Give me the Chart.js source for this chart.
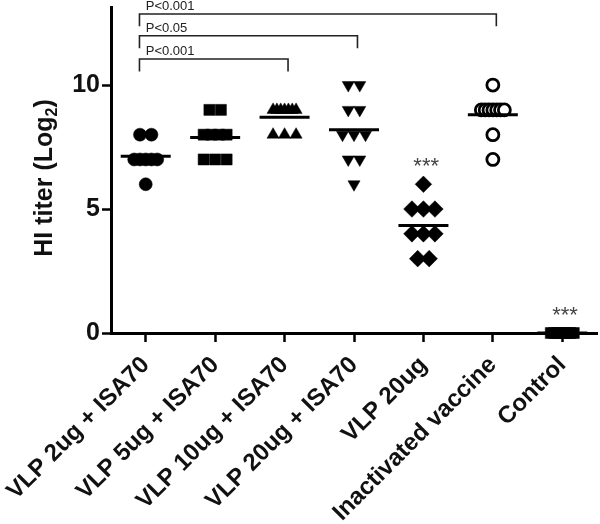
<!DOCTYPE html>
<html>
<head>
<meta charset="utf-8">
<script src="https://cdn.jsdelivr.net/npm/chart.js@4.4.1/dist/chart.umd.min.js"></script>
<style>
  html, body { margin: 0; padding: 0; background: #fff; }
  #wrap { width: 600px; height: 524px; }
</style>
</head>
<body>
<div id="wrap"><canvas id="chart" width="600" height="524"></canvas></div>
<script>
// groups on the x axis
const groups = ["VLP 2ug + ISA70", "VLP 5ug + ISA70", "VLP 10ug + ISA70", "VLP 20ug + ISA70",
                "VLP 20ug", "Inactivated vaccine", "Control"];

// HI titers (log2) per animal
const vlp2Isa = [8, 8, 7, 7, 7, 7, 7, 6];
const vlp5Isa = [9, 9, 8, 8, 8, 8, 7, 7, 7];
const vlp10Isa = [9, 9, 9, 9, 9, 9, 9, 8, 8, 8];
const vlp20Isa = [10, 10, 9, 9, 8, 8, 8, 7, 7, 6];
const vlp20 = [6, 5, 5, 5, 4, 4, 4, 3, 3];
const inactivated = [10, 9, 9, 9, 9, 9, 9, 9, 8, 7];
const control = [0, 0, 0, 0, 0, 0, 0, 0];

const yTicks = [0, 5, 10];

// significance brackets
const bracketFrom = [1, 1, 1];
const bracketTo = [3, 4, 6];
const bracketLevel = [11.05, 11.99, 12.87];
const bracketText = ["P<0.001", "P<0.05", "P<0.001"];

// "***" markers
const starGroups = [5, 7];

/* =========================
   STYLE
========================= */
const FONT = '"Liberation Sans", Arial, Helvetica, sans-serif';
const PX_PER_UNIT = 486 / 7;

const series = [vlp2Isa, vlp5Isa, vlp10Isa, vlp20Isa, vlp20, inactivated, control];
const shapes = ["circle", "rect", "triangle", "triangle", "rectRot", "circle", "rect"];
const rotations = [0, 0, 0, 180, 0, 0, 0];
const radii = [6.5, 7.8, 7, 7, 8.3, 6, 7.8];
const fills = ["#000", "#000", "#000", "#000", "#000", "#fff", "#000"];

// spread points with the same value side by side, like a GraphPad dot plot
function spread(values, g) {
  const counts = {};
  values.forEach(v => { counts[v] = (counts[v] || 0) + 1; });
  const seen = {};
  return values.map(v => {
    const n = counts[v];
    seen[v] = seen[v] === undefined ? 0 : seen[v] + 1;
    const step = n > 1 ? Math.min(11.5, 23 / (n - 1)) : 0;
    return { x: g + (seen[v] - (n - 1) / 2) * step / PX_PER_UNIT, y: v };
  });
}

const mean = arr => arr.reduce((a, b) => a + b, 0) / arr.length;
const halfMean = 25 / PX_PER_UNIT;

const meanSets = series.map((vals, i) => ({
  type: "line",
  data: [{ x: i + 1 - halfMean, y: mean(vals) }, { x: i + 1 + halfMean, y: mean(vals) }],
  borderColor: "#000",
  borderWidth: 3,
  pointRadius: 0,
  fill: false,
  clip: false
}));

const pointSets = series.map((vals, i) => ({
  data: spread(vals, i + 1),
  pointStyle: shapes[i],
  rotation: rotations[i],
  pointRadius: radii[i],
  backgroundColor: fills[i],
  borderColor: "#000",
  borderWidth: fills[i] === "#fff" ? 2.8 : 0.5,
  clip: false
}));

/* =========================
   ANNOTATIONS
========================= */
const annotations = {
  id: "annotations",
  afterDraw(chart) {
    const { ctx, scales: { x, y } } = chart;
    ctx.save();

    // brackets
    ctx.strokeStyle = "#222";
    ctx.lineWidth = 1.6;
    ctx.fillStyle = "#222";
    ctx.font = "13px " + FONT;
    ctx.textAlign = "left";
    ctx.textBaseline = "alphabetic";
    bracketLevel.forEach((lvl, i) => {
      const x1 = x.getPixelForValue(bracketFrom[i] - 0.09);
      const x2 = x.getPixelForValue(bracketTo[i] + 0.05);
      const yTop = y.getPixelForValue(lvl);
      const yLeg = y.getPixelForValue(lvl - 0.5);
      ctx.beginPath();
      ctx.moveTo(x1, yLeg);
      ctx.lineTo(x1, yTop);
      ctx.lineTo(x2, yTop);
      ctx.lineTo(x2, yLeg);
      ctx.stroke();
      ctx.fillText(bracketText[i], x.getPixelForValue(bracketFrom[i]), yTop - 4);
    });

    // stars
    ctx.fillStyle = "#444";
    ctx.font = "22px " + FONT;
    ctx.textAlign = "center";
    starGroups.forEach(g => {
      const top = Math.max(...series[g - 1]);
      ctx.fillText("***", x.getPixelForValue(g + 0.04), y.getPixelForValue(top + 0.45));
    });

    // y axis title with subscript
    const main = "HI titer (Log";
    const sub = "2";
    const close = ")";
    const bold = "bold 25px " + FONT;
    const small = "bold 16px " + FONT;
    ctx.font = bold;
    const w1 = ctx.measureText(main).width;
    const w3 = ctx.measureText(close).width;
    ctx.font = small;
    const w2 = ctx.measureText(sub).width;
    const total = w1 + w2 + w3;
    ctx.translate(52, 178);
    ctx.rotate(-Math.PI / 2);
    ctx.fillStyle = "#111";
    ctx.textAlign = "left";
    ctx.font = bold;
    ctx.fillText(main, -total / 2, 0);
    ctx.font = small;
    ctx.fillText(sub, -total / 2 + w1, 5);
    ctx.font = bold;
    ctx.fillText(close, -total / 2 + w1 + w2, 0);

    ctx.restore();
  }
};

/* =========================
   CHART
========================= */
new Chart(document.getElementById("chart"), {
  type: "scatter",
  data: { datasets: [...meanSets, ...pointSets] },
  options: {
    responsive: false,
    animation: false,
    layout: { autoPadding: false, padding: { top: 7, right: 3, left: 0, bottom: 0 } },
    plugins: { legend: { display: false }, tooltip: { enabled: false } },
    scales: {
      x: {
        type: "linear",
        min: 0.5,
        max: 7.5,
        afterBuildTicks: s => { s.ticks = groups.map((_, i) => ({ value: i + 1 })); },
        afterFit: s => { s.height = 191; s.paddingLeft = 0; s.paddingRight = 0; },
        grid: {
          drawOnChartArea: false,
          drawTicks: true,
          tickLength: 9,
          tickWidth: 2.5,
          tickColor: "#000"
        },
        border: { display: true, color: "#000", width: 3 },
        ticks: {
          autoSkip: false,
          minRotation: 45,
          maxRotation: 45,
          padding: 9,
          color: "#111",
          font: { family: FONT, size: 24, weight: "bold" },
          callback: v => groups[v - 1]
        }
      },
      y: {
        min: 0,
        max: 13.15,
        afterBuildTicks: s => { s.ticks = yTicks.map(v => ({ value: v })); },
        afterFit: s => { s.width = 111; s.paddingTop = 0; s.paddingBottom = 0; },
        grid: {
          drawOnChartArea: false,
          drawTicks: true,
          tickLength: 9,
          tickWidth: 2.5,
          tickColor: "#000"
        },
        border: { display: true, color: "#000", width: 3 },
        ticks: {
          padding: 2,
          color: "#111",
          font: { family: FONT, size: 25, weight: "bold" }
        }
      }
    }
  },
  plugins: [annotations]
});
</script>
</body>
</html>
